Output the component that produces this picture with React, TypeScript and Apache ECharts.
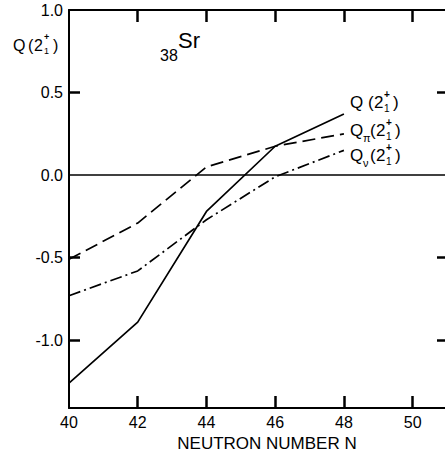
import React, { useEffect, useRef } from "react";
import * as echarts from "echarts";

const neutronNumbers = [40, 42, 44, 46, 48];
const qTotal = [-1.26, -0.89, -0.22, 0.175, 0.37];
const qProton = [-0.51, -0.29, 0.05, 0.175, 0.25];
const qNeutron = [-0.73, -0.58, -0.27, -0.01, 0.15];

const xLabelValues = [40, 42, 44, 46, 48, 50];
const xTickValues = [42, 44, 46, 48, 50];
const yLabelValues = [-1, -0.5, 0, 0.5, 1];
const yTickValues = [-1, -0.5, 0.5];

const X_MIN = 40;
const X_MAX = 51;
const Y_MIN = -1.41;
const Y_MAX = 1.0;

const FONT = "Liberation Sans";

function txt(text: string, x: number, y: number, size: number, weight = "normal") {
  return {
    type: "text",
    x,
    y,
    silent: true,
    style: {
      text,
      fontSize: size,
      fontFamily: FONT,
      fontWeight: weight,
      fill: "#000",
      textAlign: "left",
      textVerticalAlign: "middle",
    },
  };
}

function qLabel(x: number, y: number, sub: string | null, spaced: boolean, fs: number) {
  const els: any[] = [];
  els.push(txt("Q", x, y, fs));
  if (sub) els.push(txt(sub, x + 13, y + 8, fs - 6));
  const p = x + (sub ? 20 : spaced ? 18 : 15);
  els.push(txt("(", p, y, fs));
  els.push(txt("2", p + 6, y, fs));
  els.push(txt("+", p + 16, y - 8, fs - 7, "bold"));
  els.push(txt("1", p + 16, y + 6, fs - 7));
  els.push(txt(")", p + 25, y, fs));
  return els;
}

export default function App() {
  const ref = useRef<HTMLDivElement>(null);
  useEffect(() => {
    if (!ref.current) return;
    const chart = echarts.init(ref.current, null, { renderer: "svg" });
    const toPairs = (ys: number[]) => neutronNumbers.map((n, i) => [n, ys[i]]);
    const line = { show: true, onZero: false, lineStyle: { color: "#000", width: 2 } };
    const tick = (len: number, vals: number[]) => ({
      show: true,
      inside: true,
      length: len,
      customValues: vals,
      lineStyle: { color: "#000", width: 2.5 },
    });

    chart.setOption({
      animation: false,
      backgroundColor: "#fff",
      grid: {
        left: 69,
        top: 10,
        width: 378,
        height: 398,
        containLabel: false,
        outerBoundsMode: "none",
      },
      xAxis: [
        {
          type: "value",
          position: "bottom",
          min: X_MIN,
          max: X_MAX,
          axisLine: line,
          splitLine: { show: false },
          axisTick: tick(12, xTickValues),
          axisLabel: {
            customValues: xLabelValues,
            color: "#000",
            fontSize: 16,
            fontFamily: FONT,
            margin: 6,
          },
        },
        {
          type: "value",
          position: "top",
          min: X_MIN,
          max: X_MAX,
          axisLine: line,
          splitLine: { show: false },
          axisTick: tick(12, xTickValues),
          axisLabel: { show: false, customValues: xTickValues },
        },
      ],
      yAxis: [
        {
          type: "value",
          position: "left",
          min: Y_MIN,
          max: Y_MAX,
          axisLine: line,
          splitLine: { show: false },
          axisTick: tick(11, yTickValues),
          axisLabel: {
            customValues: yLabelValues,
            color: "#000",
            fontSize: 16,
            fontFamily: FONT,
            margin: 6,
            formatter: (v: number) => (v < 0 ? "-" + Math.abs(v).toFixed(1) : v.toFixed(1)),
          },
        },
        {
          type: "value",
          position: "right",
          min: Y_MIN,
          max: Y_MAX,
          axisLine: line,
          splitLine: { show: false },
          axisTick: tick(10, yTickValues),
          axisLabel: { show: false, customValues: yTickValues },
        },
      ],
      series: [
        {
          name: "Q",
          type: "line",
          data: toPairs(qTotal),
          symbol: "none",
          lineStyle: { color: "#000", width: 1.7, type: "solid" },
          markLine: {
            silent: true,
            symbol: "none",
            label: { show: false },
            lineStyle: { color: "#000", width: 1.6, type: "solid" },
            data: [{ yAxis: 0 }],
          },
        },
        {
          name: "Qpi",
          type: "line",
          data: toPairs(qProton),
          symbol: "none",
          lineStyle: { color: "#000", width: 1.7, type: [13, 6] },
        },
        {
          name: "Qnu",
          type: "line",
          data: toPairs(qNeutron),
          symbol: "none",
          lineStyle: { color: "#000", width: 1.7, type: [12, 4, 2, 4] },
        },
      ],
      graphic: [
        ...qLabel(13, 45, null, false, 16),
        txt("Sr", 178, 40, 22),
        txt("38", 160, 55, 16),
        ...qLabel(350, 102, null, true, 17),
        ...qLabel(350, 130, "\u03c0", false, 17),
        ...qLabel(350, 155, "\u03bd", false, 17),
        {
          type: "text",
          x: 267,
          y: 443,
          silent: true,
          style: {
            text: "NEUTRON NUMBER N",
            fontSize: 17,
            fontFamily: FONT,
            fill: "#000",
            textAlign: "center",
            textVerticalAlign: "middle",
          },
        },
      ],
    });

    return () => chart.dispose();
  }, []);
  return (
    <div
      ref={ref}
      style={{ position: "absolute", left: 0, top: 0, width: 445, height: 457 }}
    />
  );
}
